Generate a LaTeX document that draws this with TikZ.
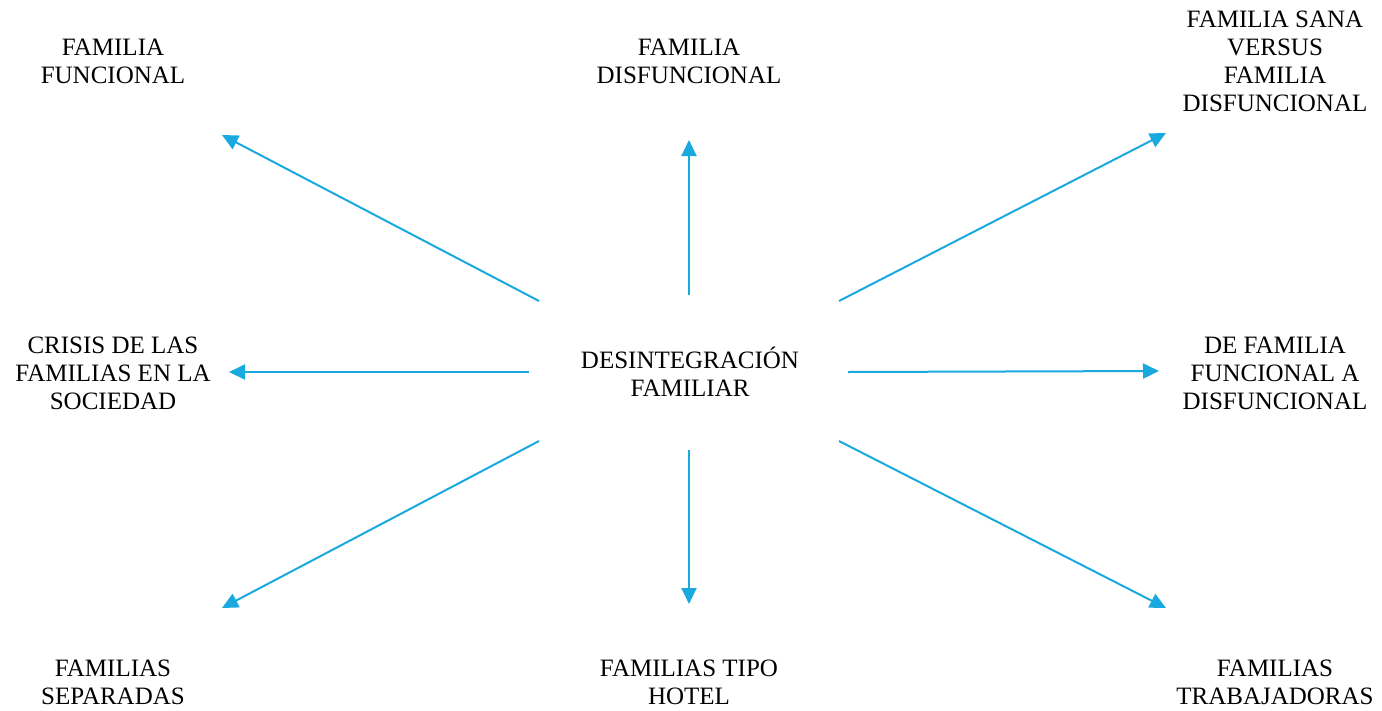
\documentclass[tikz,border=0pt]{standalone}
\usepackage{fontspec}
\setmainfont{Liberation Serif}
\usetikzlibrary{arrows.meta}
\definecolor{arrowblue}{HTML}{1AA9DE}
\begin{document}
\begin{tikzpicture}[x=1pt,y=-1pt,
  lbl/.style={align=center,inner sep=0pt,font=\fontsize{25}{28}\selectfont},
  conn/.style={draw=arrowblue,line width=2pt,-{Triangle[length=16pt,width=15pt]}}]
\useasboundingbox (0,0) rectangle (1382,710);
% nodes
\node[lbl] (center) at (690,372) {DESINTEGRACIÓN\\FAMILIAR};
\node[lbl] (ff) at (113,61) {FAMILIA\\FUNCIONAL};
\node[lbl] (fd) at (689,61) {FAMILIA\\DISFUNCIONAL};
\node[lbl] (fs) at (1275,61) {FAMILIA SANA\\VERSUS\\FAMILIA\\DISFUNCIONAL};
\node[lbl] (cr) at (113,373) {CRISIS DE LAS\\FAMILIAS EN LA\\SOCIEDAD};
\node[lbl] (df) at (1275,373) {DE FAMILIA\\FUNCIONAL A\\DISFUNCIONAL};
\node[lbl] (sep) at (113,682) {FAMILIAS\\SEPARADAS};
\node[lbl] (hot) at (689,682) {FAMILIAS TIPO\\HOTEL};
\node[lbl] (tra) at (1275,682) {FAMILIAS\\TRABAJADORAS};
% connector end points
\coordinate (s1) at (539,301); \coordinate (e1) at (222,135);
\coordinate (s2) at (689,295); \coordinate (e2) at (689,140);
\coordinate (s3) at (839,301); \coordinate (e3) at (1166,133);
\coordinate (s4) at (529,372); \coordinate (e4) at (229,372);
\coordinate (s5) at (848,372); \coordinate (e5) at (1159,371);
\coordinate (s6) at (539,441); \coordinate (e6) at (222,608);
\coordinate (s7) at (689,450); \coordinate (e7) at (689,604);
\coordinate (s8) at (839,441); \coordinate (e8) at (1166,608);
\foreach \i in {1,...,8} { \draw[conn] (s\i) -- (e\i); }
\end{tikzpicture}
\end{document}
